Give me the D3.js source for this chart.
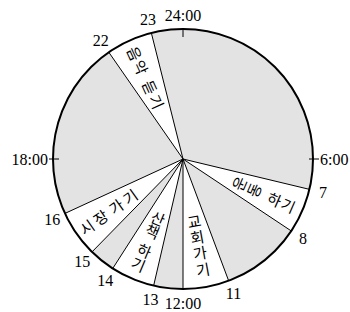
<!DOCTYPE html>
<html><head><meta charset="utf-8">
<script src="https://cdn.jsdelivr.net/npm/d3@7"></script>
<style>body{margin:0;background:#fff}svg{display:block}</style>
</head><body>
<svg id="c" width="350" height="312"></svg>
<script>
// ---- data ----
const activities = ["운동 하기", "교회 가기", "산책 하기", "시장 가기", "음악 듣기"];
const startHours = [6.9, 10.63, 12.87, 14.96, 21.68];
const endHours   = [8.24, 12.0, 14.18, 16.35, 23.06];
const boundaryHours  = [6.9, 8.24, 10.63, 12.87, 14.18, 14.96, 16.35, 21.68, 23.06];
const boundaryLabels = ["7", "8", "11", "13", "14", "15", "16", "22", "23"];
const mainHours  = [0, 6, 12, 18];
const mainLabels = ["24:00", "6:00", "12:00", "18:00"];

// ---- layout ----
const cx = 183, cy = 159, R = 130;
const svg = d3.select("#c");
const g = svg.append("g").attr("transform", `translate(${cx},${cy})`);
const ang = d3.scaleLinear().domain([0, 24]).range([0, 2 * Math.PI]);
const pt = (h, r) => [r * Math.sin(ang(h)), -r * Math.cos(ang(h))];

g.append("circle").attr("r", R).attr("fill", "#e3e3e3");

const arc = d3.arc().innerRadius(0).outerRadius(R);
g.selectAll("path.w").data(activities).join("path")
  .attr("class", "w")
  .attr("d", (d, i) => arc({startAngle: ang(startHours[i]), endAngle: ang(endHours[i])}))
  .attr("fill", "#fff");

const lineHours = Array.from(new Set(startHours.concat(endHours)));
g.selectAll("line.b").data(lineHours).join("line")
  .attr("class", "b")
  .attr("x1", 0).attr("y1", 0)
  .attr("x2", d => pt(d, R)[0]).attr("y2", d => pt(d, R)[1])
  .attr("stroke", "#000").attr("stroke-width", 1);

g.append("circle").attr("r", R).attr("fill", "none").attr("stroke", "#000").attr("stroke-width", 2);

// ticks at main hours (12:00 already has a wedge line)
const tickExt = {0: [R - 8, R], 6: [R - 4, R + 6], 18: [R - 6, R + 4]};
g.selectAll("line.t").data(mainHours.filter(h => tickExt[h])).join("line")
  .attr("class", "t")
  .attr("x1", d => pt(d, tickExt[d][0])[0]).attr("y1", d => pt(d, tickExt[d][0])[1])
  .attr("x2", d => pt(d, tickExt[d][1])[0]).attr("y2", d => pt(d, tickExt[d][1])[1])
  .attr("stroke", "#000").attr("stroke-width", 1);

const numFont = "'Liberation Serif', 'DejaVu Serif', serif";
g.selectAll("text.bl").data(boundaryLabels).join("text")
  .attr("class", "bl")
  .attr("x", (d, i) => pt(boundaryHours[i], R + 14)[0])
  .attr("y", (d, i) => pt(boundaryHours[i], R + 14)[1])
  .attr("text-anchor", "middle").attr("dominant-baseline", "central")
  .attr("font-family", numFont).attr("font-size", 16).text(d => d);

const mainPos = {
  0: {r: R + 14, anchor: "middle"}, 12: {r: R + 14, anchor: "middle"},
  6: {r: R + 7, anchor: "start"}, 18: {r: R + 5, anchor: "end"}
};
g.selectAll("text.ml").data(mainLabels).join("text")
  .attr("class", "ml")
  .attr("x", (d, i) => pt(mainHours[i], mainPos[mainHours[i]].r)[0])
  .attr("y", (d, i) => pt(mainHours[i], mainPos[mainHours[i]].r)[1])
  .attr("text-anchor", (d, i) => mainPos[mainHours[i]].anchor)
  .attr("dominant-baseline", "central")
  .attr("font-family", numFont).attr("font-size", 16).text(d => d);

// activity labels, one glyph at a time along the wedge's middle radius
// mode: "out" = horizontal text reading outward, "in" = reading inward, "v" = stacked upright
const labelLayout = [
  {dist: [61, 77, 100, 115], mode: ["v", "v", "out", "out"]},
  {dist: [63, 79, 95, 112],  mode: ["v", "v", "v", "v"]},
  {dist: [64, 78, 99, 114],  mode: ["v", "v", "v", "v"]},
  {dist: [118, 101, 82, 65], mode: ["in", "in", "in", "in"]},
  {dist: [116, 101, 79, 63], mode: ["in", "in", "in", "in"]}
];
const glyphs = [];
activities.forEach((name, i) => {
  const mid = (startHours[i] + endHours[i]) / 2;
  const outward = ang(mid) * 180 / Math.PI - 90;
  const chars = name.replace(/\s/g, "").split("");
  chars.forEach((ch, j) => {
    const L = labelLayout[i];
    const m = L.mode[j];
    const rot = m === "v" ? outward - 90 : (m === "out" ? outward : outward - 180);
    const p = pt(mid, L.dist[j]);
    glyphs.push({ch, x: p[0], y: p[1], rot});
  });
});
g.selectAll("text.k").data(glyphs).join("text")
  .attr("class", "k")
  .attr("transform", d => `translate(${d.x},${d.y}) rotate(${d.rot})`)
  .attr("text-anchor", "middle").attr("dominant-baseline", "central")
  .attr("font-family", "'Noto Sans CJK KR', sans-serif").attr("font-size", 15)
  .text(d => d.ch);
</script>
</body></html>
